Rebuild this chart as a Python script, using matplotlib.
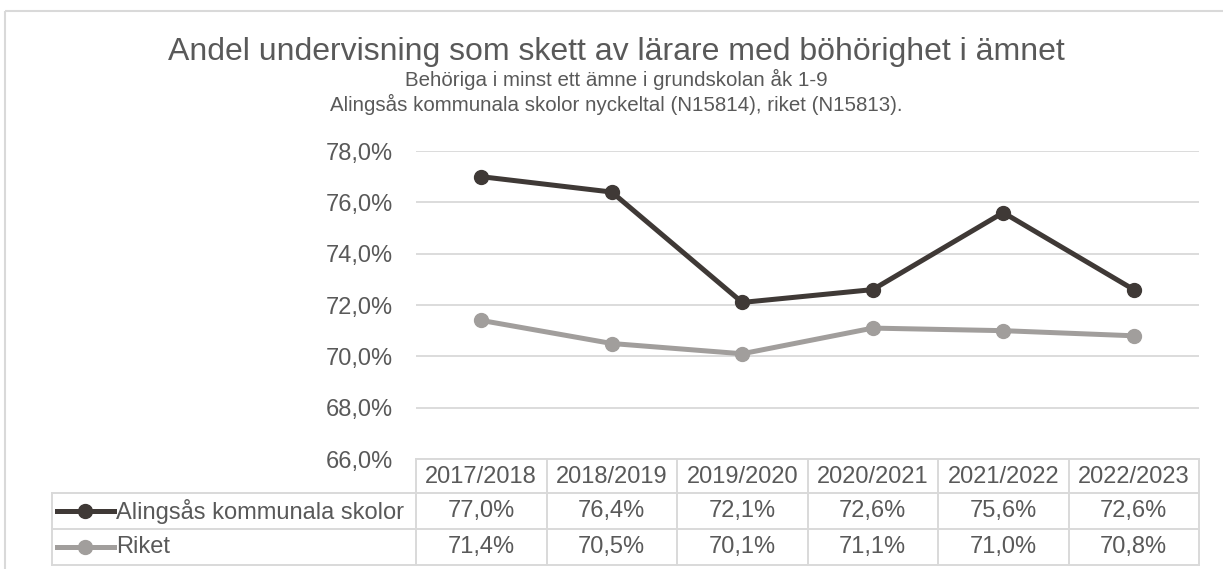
import matplotlib
matplotlib.use('Agg')
import matplotlib.pyplot as plt
import matplotlib.transforms as mtransforms
from matplotlib.lines import Line2D
from matplotlib.patches import Rectangle

plt.rcParams['font.family'] = ['Liberation Sans', 'DejaVu Sans']

# Data
lasar = ['2017/2018', '2018/2019', '2019/2020', '2020/2021', '2021/2022', '2022/2023']
alingsas = [77.0, 76.4, 72.1, 72.6, 75.6, 72.6]
riket = [71.4, 70.5, 70.1, 71.1, 71.0, 70.8]
serier = ['Alingsås kommunala skolor', 'Riket']
farger = ['#3f3936', '#a19e9c']
yticks = [66, 68, 70, 72, 74, 76, 78]

titel = 'Andel undervisning som skett av lärare med böhörighet i ämnet'
undertitel1 = 'Behöriga i minst ett ämne i grundskolan åk 1-9'
undertitel2 = 'Alingsås kommunala skolor nyckeltal (N15814), riket (N15813).'

W, H = 1223, 569
textfarg = '#595959'
linjefarg = '#d9d9d9'

fig = plt.figure(figsize=(W / 100, H / 100), dpi=100)

# pixel -> figure transform (y from top)
px = mtransforms.Affine2D().scale(1 / W, -1 / H).translate(0, 1) + fig.transFigure

# outer border
fig.add_artist(Rectangle((5, 11), W + 20, H + 20, transform=px, fill=False,
                         edgecolor=linjefarg, lw=1.5))

ax = fig.add_axes([416 / W, (H - 459) / H, (1199 - 416) / W, (459 - 151) / H])
x = list(range(len(lasar)))
for vals, c in zip([alingsas, riket], farger):
    ax.plot(x, vals, color=c, lw=3.6, marker='o', markersize=10, clip_on=False, zorder=3)

ax.set_xlim(-0.5, len(lasar) - 0.5)
ax.set_ylim(66, 78)
ax.set_yticks(yticks)
ax.set_yticklabels([f'{v:.1f}%'.replace('.', ',') for v in yticks], fontsize=17, color=textfarg)
ax.set_xticks([])
ax.tick_params(axis='y', length=0, pad=16.5)
ax.yaxis.grid(True, color=linjefarg, lw=1.3)
ax.set_axisbelow(True)
for s in ax.spines.values():
    s.set_visible(False)

# titles
fig.text(616, 60, titel, transform=px, ha='center', va='baseline', fontsize=23, color=textfarg)
fig.text(616, 86, undertitel1, transform=px, ha='center', va='baseline', fontsize=14.8, color=textfarg)
fig.text(616, 111, undertitel2, transform=px, ha='center', va='baseline', fontsize=14.8, color=textfarg)

# data table below the axis
tr = mtransforms.blended_transform_factory(ax.transData, px)
y_head, y_r1, y_r2, y_end = 459, 493, 529, 565
n = len(lasar)


def hline(x0, x1, y, trans):
    fig.add_artist(Line2D([x0, x1], [y, y], transform=trans, color=linjefarg, lw=1.4))


def vline(xx, y0, y1, trans):
    fig.add_artist(Line2D([xx, xx], [y0, y1], transform=trans, color=linjefarg, lw=1.4))


hline(-0.5, n - 0.5, y_head, tr)
for yy in [y_r1, y_r2, y_end]:
    hline(52, 1199, yy, px)
vline(52, y_r1, y_end, px)
for i in range(n + 1):
    vline(i - 0.5, y_head, y_end, tr)

for i, lab in enumerate(lasar):
    fig.text(i, (y_head + y_r1) / 2 + 1, lab, transform=tr, ha='center', va='center',
             fontsize=17, color=textfarg)

rader = [(y_r1, y_r2), (y_r2, y_end)]
for (ya, yb), namn, vals, c in zip(rader, serier, [alingsas, riket], farger):
    yc = (ya + yb) / 2
    fig.add_artist(Line2D([57, 114], [yc, yc], transform=px, color=c, lw=3.6))
    fig.add_artist(Line2D([85], [yc], transform=px, color=c, marker='o', markersize=10))
    fig.text(116, yc, namn, transform=px, ha='left', va='center', fontsize=17, color=textfarg)
    for i, v in enumerate(vals):
        fig.text(i, yc, f'{v:.1f}%'.replace('.', ','), transform=tr, ha='center', va='center',
                 fontsize=17, color=textfarg)

fig.savefig('out.png', dpi=100)
